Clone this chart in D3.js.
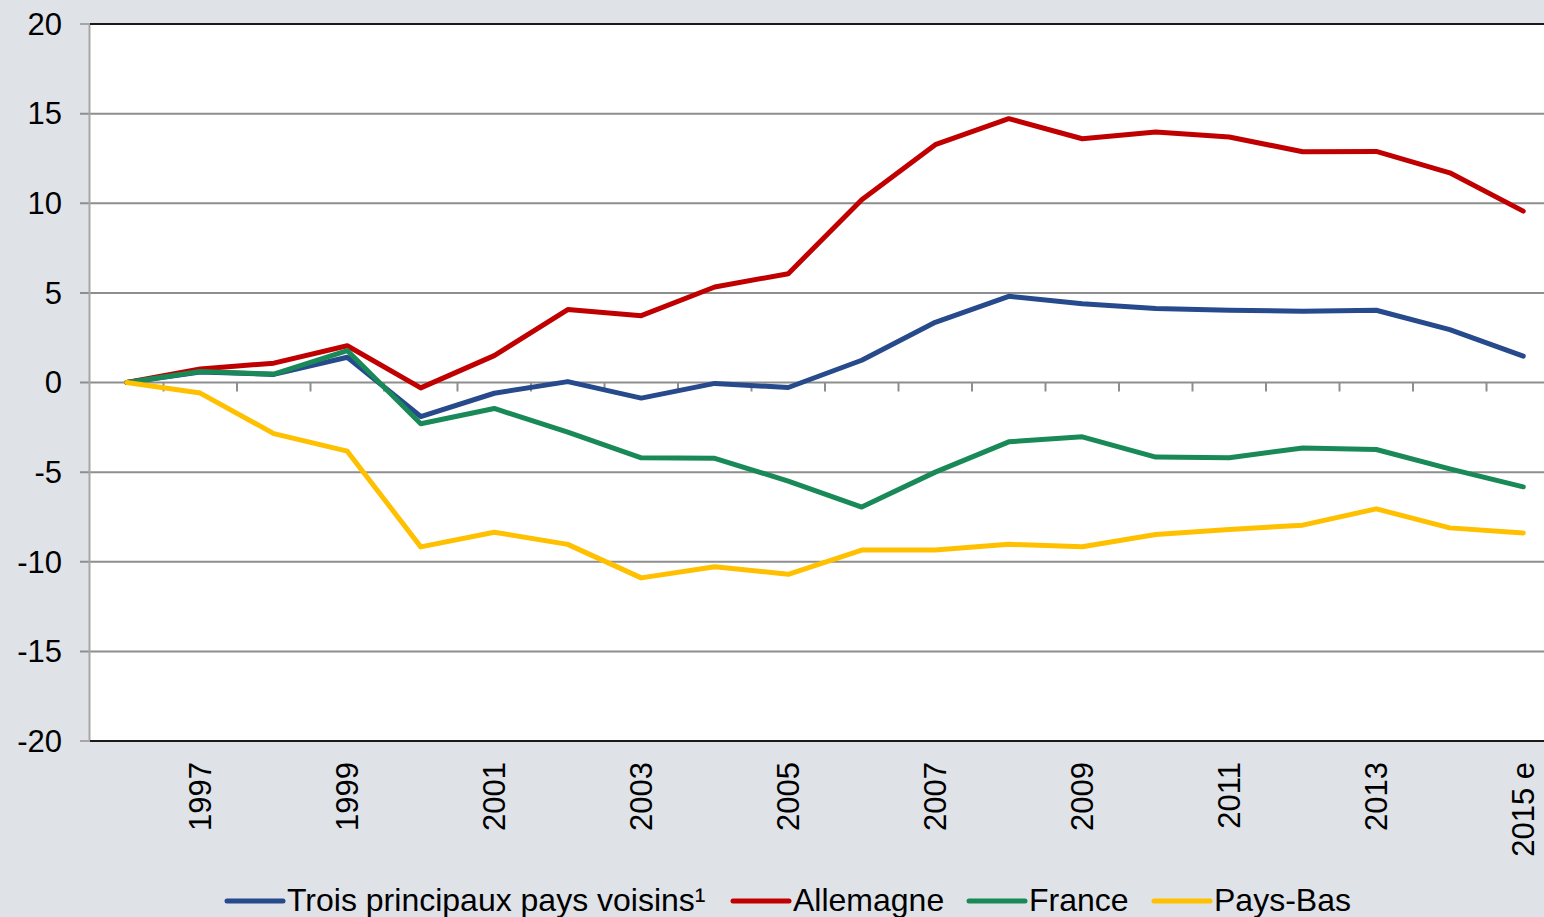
<!DOCTYPE html>
<html>
<head>
<meta charset="utf-8">
<script src="https://cdn.jsdelivr.net/npm/d3@7"></script>
<style>
  html, body { margin: 0; padding: 0; background: #dfe2e7; }
  svg { display: block; }
  text { font-family: "Liberation Sans", Arial, sans-serif; fill: #000; }
</style>
</head>
<body>
<svg id="chart" width="1544" height="917"></svg>
<script>
const years = ["1996","1997","1998","1999","2000","2001","2002","2003","2004","2005","2006","2007","2008","2009","2010","2011","2012","2013","2014","2015 e"];
const yearLabels = ["1997","1999","2001","2003","2005","2007","2009","2011","2013","2015 e"];
const yTicks = [-20,-15,-10,-5,0,5,10,15,20];

const troisPays = [0, 0.58, 0.45, 1.41, -1.9, -0.6, 0.05, -0.87, -0.05, -0.28, 1.24, 3.36, 4.81, 4.39, 4.13, 4.03, 3.98, 4.03, 2.95, 1.47];
const allemagne = [0, 0.75, 1.08, 2.05, -0.3, 1.5, 4.07, 3.73, 5.33, 6.07, 10.2, 13.27, 14.72, 13.6, 13.98, 13.7, 12.87, 12.89, 11.7, 9.56];
const france    = [0, 0.61, 0.47, 1.78, -2.3, -1.45, -2.77, -4.2, -4.23, -5.5, -6.95, -5.0, -3.31, -3.03, -4.16, -4.2, -3.65, -3.74, -4.82, -5.82];
const paysBas   = [0, -0.59, -2.85, -3.83, -9.17, -8.35, -9.03, -10.9, -10.28, -10.7, -9.35, -9.35, -9.03, -9.16, -8.48, -8.2, -7.96, -7.05, -8.11, -8.39];

const seriesNames = ["Trois principaux pays voisins\u00B9", "Allemagne", "France", "Pays-Bas"];
const seriesColors = ["#264a8c", "#c00000", "#198a57", "#ffc000"];
const seriesValues = [troisPays, allemagne, france, paysBas];

(function () {
const svg = d3.select("#chart");
const mLeft = 90, mTop = 24, mBottom = 741;
const plotWidth = 73.5 * years.length;

const x = d3.scaleBand().domain(years).range([mLeft, mLeft + plotWidth]);
const y = d3.scaleLinear().domain([-20, 20]).range([mBottom, mTop]);

// plot background
svg.append("rect").attr("x", mLeft).attr("y", mTop)
  .attr("width", plotWidth).attr("height", mBottom - mTop).attr("fill", "#ffffff");

// gridlines
svg.append("g").selectAll("line").data(yTicks.filter(d => d !== 20 && d !== -20)).join("line")
  .attr("x1", mLeft - 10).attr("x2", mLeft + plotWidth)
  .attr("y1", d => y(d)).attr("y2", d => y(d))
  .attr("stroke", "#8e8e8e").attr("stroke-width", 2);

// y tick marks for top & bottom
svg.append("g").selectAll("line").data([20, -20]).join("line")
  .attr("x1", mLeft - 10).attr("x2", mLeft)
  .attr("y1", d => y(d)).attr("y2", d => y(d))
  .attr("stroke", "#a6a6a6").attr("stroke-width", 2);

// left axis line
svg.append("line").attr("x1", mLeft - 0.5).attr("x2", mLeft - 0.5)
  .attr("y1", mTop).attr("y2", mBottom)
  .attr("stroke", "#a6a6a6").attr("stroke-width", 2);

// top & bottom borders
svg.append("g").selectAll("line").data([20, -20]).join("line")
  .attr("x1", mLeft).attr("x2", mLeft + plotWidth)
  .attr("y1", d => y(d)).attr("y2", d => y(d))
  .attr("stroke", "#1a1a1a").attr("stroke-width", 2);

// x tick marks on zero line at band boundaries
svg.append("g").selectAll("line").data(years.slice(1)).join("line")
  .attr("x1", d => x(d)).attr("x2", d => x(d))
  .attr("y1", y(0)).attr("y2", y(0) + 9)
  .attr("stroke", "#8e8e8e").attr("stroke-width", 2);

// y labels
svg.append("g").selectAll("text").data(yTicks).join("text")
  .attr("x", 62).attr("y", d => y(d)).attr("dy", "0.35em")
  .attr("text-anchor", "end").attr("font-size", 31)
  .text(d => d);

// x labels
svg.append("g").selectAll("text").data(yearLabels).join("text")
  .attr("transform", d => `translate(${x(d) + x.bandwidth() / 2},762) rotate(-90)`)
  .attr("dy", "0.35em").attr("text-anchor", "end").attr("font-size", 31)
  .text(d => d);

// lines
const line = d3.line()
  .x((d, i) => x(years[i]) + x.bandwidth() / 2)
  .y(d => y(d));

seriesValues.forEach((vals, k) => {
  svg.append("path").datum(vals)
    .attr("d", line)
    .attr("fill", "none")
    .attr("stroke", seriesColors[k])
    .attr("stroke-width", 5)
    .attr("stroke-linejoin", "round")
    .attr("stroke-linecap", "round");
});

// legend
const legendX = [227, 733, 969, 1154];
const lg = svg.append("g");
seriesNames.forEach((name, k) => {
  lg.append("line")
    .attr("x1", legendX[k]).attr("x2", legendX[k] + 56)
    .attr("y1", 901).attr("y2", 901)
    .attr("stroke", seriesColors[k]).attr("stroke-width", 5)
    .attr("stroke-linecap", "round");
  lg.append("text")
    .attr("x", legendX[k] + 60).attr("y", 911)
    .attr("font-size", 32)
    .text(name);
});
})();
</script>
</body>
</html>
